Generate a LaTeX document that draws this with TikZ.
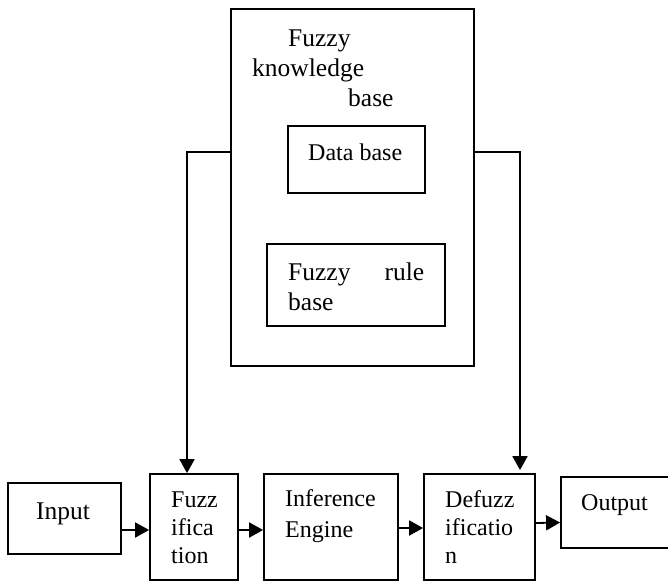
\documentclass[tikz,border=0pt]{standalone}
\usepackage{fontspec}
\setmainfont{Liberation Serif}
\usetikzlibrary{arrows.meta,fit}
\begin{document}
\begin{tikzpicture}[x=1pt,y=-1pt,
  box/.style={draw,line width=1.8pt,inner sep=0pt},
  conn/.style={line width=1.8pt,-{Triangle[length=14pt,width=15pt]}},
  txt/.style={inner sep=0pt,anchor=base west,font=\fontsize{24}{28}\selectfont},
  bigtxt/.style={inner sep=0pt,anchor=base west,font=\fontsize{25.5}{30}\selectfont}]
\useasboundingbox (0,0) rectangle (668,582);

% knowledge base and its two parts
\node[box,fit={(231,9) (474,366)}] (kb) {};
\node[box,fit={(288,126) (425,193)}] (db) {};
\node[box,fit={(267,244) (445,326)}] (rb) {};

% processing chain
\node[box,fit={(8,483) (121,554)}] (in) {};
\node[box,fit={(150,474) (238,580)}] (fz) {};
\node[box,fit={(264,474) (398,580)}] (ie) {};
\node[box,fit={(424,474) (535,580)}] (df) {};
\node[box,fit={(561,477) (678,548)}] (out) {};

% labels
\node[bigtxt] (tkb) at (252,46) {\begin{tabular}[t]{@{}l@{}}\hspace*{36pt}Fuzzy\\knowledge\\\hspace*{96pt}base\end{tabular}};
\node[txt] (tdb) at (308,160) {Data base};
\node[bigtxt] (trb) at (288,280) {\begin{tabular}[t]{@{}l@{}}\makebox[136pt][l]{Fuzzy\hfill rule}\\base\end{tabular}};
\node[bigtxt] (tin) at (36,519) {Input};
\node[txt] (tfz) at (171,507) {\begin{tabular}[t]{@{}l@{}}Fuzz\\ifica\\tion\end{tabular}};
\node[txt] (tie) at (285,506) {\begin{tabular}[t]{@{}l@{}}Inference\\[3pt]Engine\end{tabular}};
\node[txt] (tdf) at (445,507) {\begin{tabular}[t]{@{}l@{}}Defuzz\\ificatio\\n\end{tabular}};
\node[txt] (tout) at (581,510) {Output};

% feeds from the knowledge base
\coordinate (lk) at (187,152);
\coordinate (rk) at (520,152);
\draw[conn] (kb.west |- lk) -- (lk) -- (lk |- fz.north);
\draw[conn] (kb.east |- rk) -- (rk) -- ([yshift=3pt]rk |- df.north);

% chain arrows
\draw[conn] (in.east |- 0,530) -- ([yshift=-3pt]fz.west);
\draw[conn] ([yshift=-3pt]fz.east) -- ([yshift=-3pt]ie.west);
\draw[conn] ([yshift=-1pt]ie.east) -- ([yshift=-1pt]df.west);
\draw[conn] (df.east |- 0,523) -- ([yshift=-10pt]out.west);
\end{tikzpicture}
\end{document}
